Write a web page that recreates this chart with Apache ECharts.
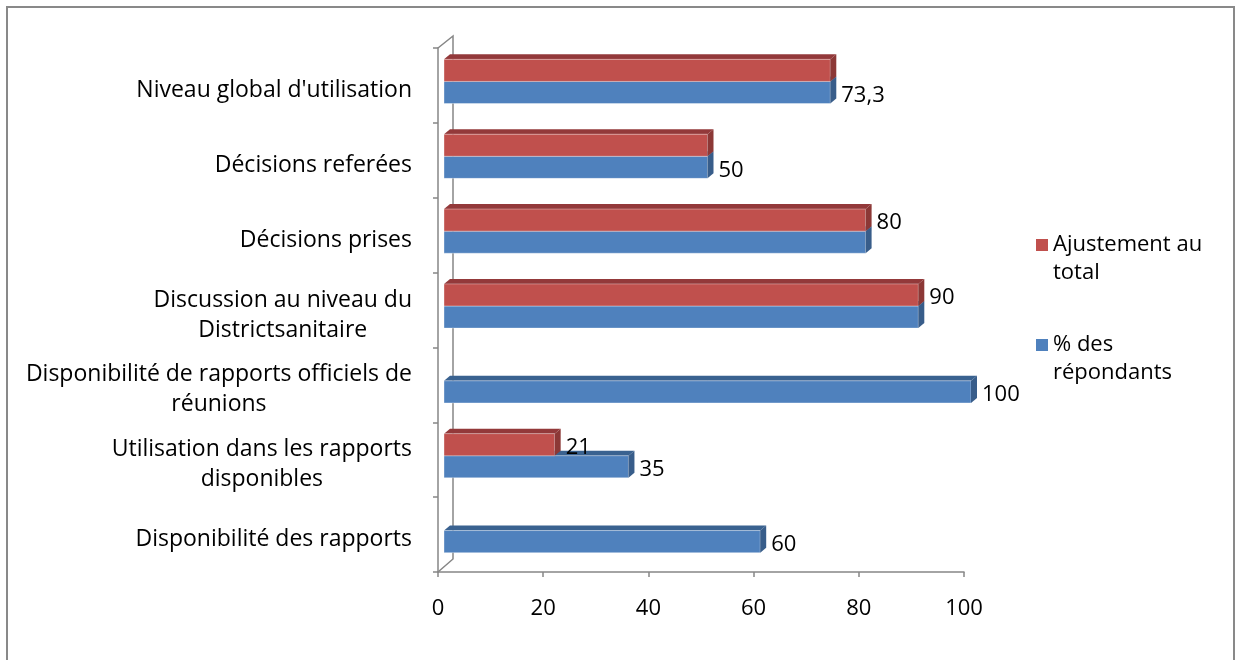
<!DOCTYPE html>
<html><head><meta charset="utf-8">
<script src="https://cdn.jsdelivr.net/npm/echarts@6/dist/echarts.min.js"></script>
<style>html,body{margin:0;padding:0;background:#fff}#c{width:1241px;height:660px}</style>
</head><body><div id="c"></div>
<script>
// ---- data ----
const categories = [
  "Niveau global d'utilisation",
  "Décisions referées",
  "Décisions prises",
  "Discussion au niveau du\nDistrictsanitaire",
  "Disponibilité de rapports officiels de\nréunions",
  "Utilisation dans les rapports\ndisponibles",
  "Disponibilité des rapports"
];
const seriesNames = ["% des répondants", "Ajustement au total"];
const legendLabels = {"% des répondants": "% des\nrépondants", "Ajustement au total": "Ajustement au\ntotal"};
const pctRepondants = [73.3, 50, 80, 90, 100, 35, 60];
const ajustementTotal = [73.3, 50, 80, 90, null, 21, null];
const showLabelRepondants = [true, true, false, false, true, true, true];
const showLabelAjustement = [false, false, true, true, false, true, false];
const xTickMin = 0, xTickMax = 100, xTickStep = 20;

// ---- layout / style ----
const FONT = "'Open Sans'";
const FS = 22;      // numbers & legend
const FS_CAT = 23;  // category labels
const G0 = {left: 438, top: 48, width: 526, height: 524};
const G1 = {left: 444, top: 44, width: 527, height: 524};
const DX = 6, DY = -5;
const AXIS = "#868686";

function fmt(v){ return String(v).replace('.', ','); }

function makeRender(upper, front, topC, sideC, labelFlags) {
  return function (params, api) {
    const ci = api.value(0), v = api.value(1);
    if (v == null || isNaN(v)) return;
    const p0 = api.coord([0, ci]);
    const p1 = api.coord([v, ci]);
    const band = api.size([0, 1])[1];
    const h = band * 0.295;
    const yTop = upper ? p0[1] - h : p0[1];
    const x0 = p0[0], x1 = p1[0];
    const children = [
      {type: 'polygon', shape: {points: [[x0, yTop], [x0 + DX, yTop + DY], [x1 + DX, yTop + DY], [x1, yTop]]},
        style: {fill: topC}},
      {type: 'rect', shape: {x: x0, y: yTop, width: x1 - x0, height: h},
        style: {fill: front, stroke: 'rgba(255,255,255,0.35)', lineWidth: 1}},
      {type: 'polygon', shape: {points: [[x1, yTop], [x1 + DX, yTop + DY], [x1 + DX, yTop + h + DY], [x1, yTop + h]]},
        style: {fill: sideC}}
    ];
    if (labelFlags[params.dataIndex]) {
      children.push({type: 'text', style: {text: fmt(v), x: x1 + DX + 5, y: yTop + h / 2 + 3,
        verticalAlign: 'middle', align: 'left', fontSize: FS, fontFamily: FONT, fill: '#000'}});
    }
    return {type: 'group', children: children};
  };
}

const chart = echarts.init(document.getElementById('c'), null, {renderer: 'canvas'});
const option = {
  backgroundColor: '#fff',
  animation: false,
  textStyle: {fontFamily: FONT},
  grid: [
    Object.assign({containLabel: false}, G0),
    Object.assign({containLabel: false}, G1)
  ],
  xAxis: [
    {gridIndex: 0, type: 'value', min: xTickMin, max: xTickMax, interval: xTickStep,
      axisLine: {show: true, lineStyle: {color: AXIS, width: 1.5}},
      axisTick: {show: true, inside: false, length: 5, lineStyle: {color: AXIS, width: 1.5}},
      splitLine: {show: false},
      axisLabel: {fontSize: FS, color: '#000', margin: 26, fontFamily: FONT}},
    {gridIndex: 1, type: 'value', min: xTickMin, max: xTickMax, show: false}
  ],
  yAxis: [
    {gridIndex: 0, type: 'category', inverse: true, data: categories,
      axisLine: {show: true, lineStyle: {color: AXIS, width: 1.5}},
      axisTick: {show: true, length: 5, lineStyle: {color: AXIS, width: 1.5}},
      axisLabel: {margin: 26, fontSize: FS_CAT, color: '#000', fontFamily: FONT, lineHeight: 30,
        padding: [10, 0, 0, 0],
        formatter: function (s) {
          return s.split('\n').map(l => '{c|' + l + '}').join('\n');
        },
        rich: {c: {align: 'center', fontSize: FS_CAT, lineHeight: 30, fontFamily: FONT, color: '#000'}}}},
    {gridIndex: 1, type: 'category', inverse: true, data: categories, show: false}
  ],
  legend: {
    data: [seriesNames[1], seriesNames[0]],
    orient: 'vertical', left: 1031, top: 198,
    itemWidth: 12, itemHeight: 12, itemGap: 16, icon: 'rect',
    formatter: n => '\n' + legendLabels[n],
    textStyle: {fontSize: FS, lineHeight: 28, color: '#000', fontFamily: FONT}
  },
  graphic: [
    {type: 'rect', z: 0, shape: {x: 7, y: 7, width: 1227, height: 720},
      style: {fill: 'none', stroke: '#898989', lineWidth: 2}},
    {type: 'polyline', z: 1, shape: {points: [
        [G0.left, G0.top], [G0.left + 15, G0.top - 12],
        [G0.left + 15, G0.top + G0.height - 13], [G0.left, G0.top + G0.height]]},
      style: {stroke: AXIS, lineWidth: 1.5, fill: 'none'}}
  ],
  series: [
    {name: seriesNames[0], type: 'custom', xAxisIndex: 1, yAxisIndex: 1,
      itemStyle: {color: '#4F81BD'},
      encode: {x: 1, y: 0},
      data: pctRepondants.map((v, i) => [i, v == null ? NaN : v]),
      renderItem: makeRender(false, '#4F81BD', '#3A6290', '#385D8A', showLabelRepondants)},
    {name: seriesNames[1], type: 'custom', xAxisIndex: 1, yAxisIndex: 1,
      itemStyle: {color: '#C0504D'},
      encode: {x: 1, y: 0},
      data: ajustementTotal.map((v, i) => [i, v == null ? NaN : v]),
      renderItem: makeRender(true, '#C0504D', '#93393A', '#8C3836', showLabelAjustement)}
  ]
};
chart.setOption(option);
</script>
</body></html>
